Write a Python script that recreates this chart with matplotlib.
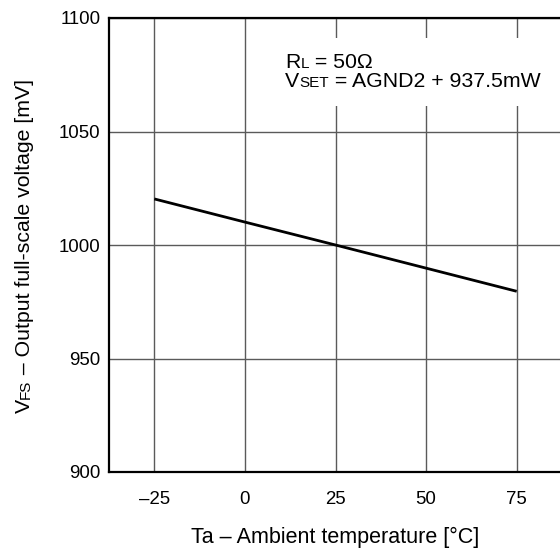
import numpy as np
import matplotlib
matplotlib.use('Agg')
import matplotlib.pyplot as plt
from matplotlib.patches import Rectangle

plt.rcParams['font.family'] = ['Liberation Sans', 'DejaVu Sans']

# data
temp = [-25, 0, 25, 50, 75]
vfs = [1020.3, 1010.1, 1000.0, 989.8, 979.6]
xticks = [-25, 0, 25, 50, 75]
xtick_labels = ['–25', '0', '25', '50', '75']
yticks = [900, 950, 1000, 1050, 1100]

W, H = 560, 549
fig = plt.figure(figsize=(W / 100, H / 100), dpi=100)
# axes runs a bit past the right edge of the canvas, like the original
ax = fig.add_axes([109 / W, 1 - 472 / H, 453 / W, 454 / H])

ax.plot(temp, vfs, color='black', lw=2.0, solid_capstyle='butt', zorder=3)

ax.set_xlim(-37.5, 87.5)
ax.set_ylim(900, 1100)
ax.set_xticks(xticks)
ax.set_xticklabels(xtick_labels)
ax.set_yticks(yticks)
ax.grid(True, color='#5a5a5a', lw=1.0)
ax.set_axisbelow(True)
ax.tick_params(length=0, labelsize=13.4)
ax.tick_params(axis='x', pad=14)
ax.tick_params(axis='y', pad=6)
for s in ax.spines.values():
    s.set_linewidth(1.6)

# white box behind the condition text hides the grid there
ax.add_patch(Rectangle((0.355, 0.806), 0.66, 0.15, transform=ax.transAxes,
                       facecolor='white', edgecolor='none', zorder=1))

ax.set_xlabel('Ta – Ambient temperature [°C]', fontsize=15.5, labelpad=13)

fs = 15.3
small = 11
renderer = fig.canvas.get_renderer()


def draw_pieces(x, y, pieces, rot=0):
    # x, y in pixels from the top-left corner
    y = H - y
    for s, size in pieces:
        t = fig.text(x, y, s, fontsize=size, rotation=rot, rotation_mode='anchor',
                     ha='left', va='baseline', transform=None)
        w, _, _ = renderer.get_text_width_height_descent(s, t.get_fontproperties(), ismath=False)
        if rot == 0:
            x += w
        else:
            y += w


draw_pieces(285, 68, [('R', fs), ('L', small), (' = 50Ω', fs)])
draw_pieces(285, 87, [('V', fs), ('SET', small), (' = AGND2 + 937.5mW', fs)])
draw_pieces(30, 413, [('V', fs), ('FS', small), (' – Output full-scale voltage [mV]', fs)], rot=90)

fig.savefig('out.png', dpi=100)
